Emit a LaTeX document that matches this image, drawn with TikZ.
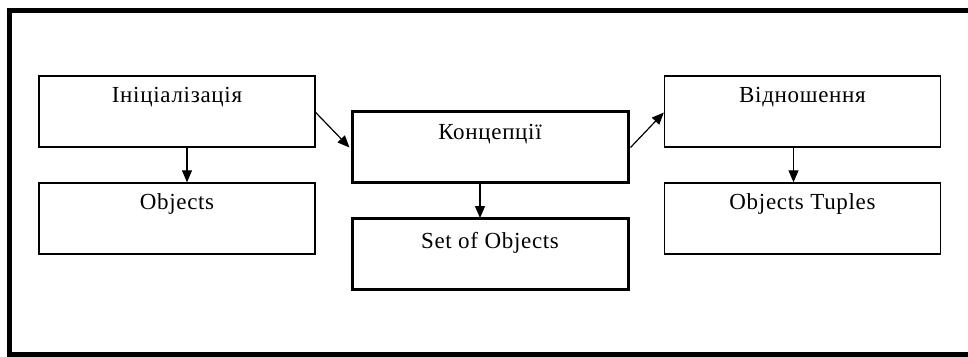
\documentclass[tikz,border=0pt]{standalone}
\usepackage{fontspec}
\setmainfont[LetterSpace=3]{Liberation Serif}
\usetikzlibrary{arrows.meta}

\tikzset{
  thinbox/.style={draw, line width=1.4pt, minimum width=276pt, minimum height=71pt, inner sep=0pt},
  thickbox/.style={draw, line width=3pt, minimum width=276pt, minimum height=71pt, inner sep=0pt},
  caption/.style={anchor=base, font=\fontsize{23}{27}\selectfont, inner sep=0pt},
  flow/.style={line width=1.2pt, -{Triangle[length=12pt,width=10pt]}},
}

\begin{document}
\begin{tikzpicture}[x=1pt, y=-1pt]
  \useasboundingbox (0,0) rectangle (968,356);
  \fill[white] (0,0) rectangle (968,356);
  % outer frame, its right side runs past the page edge
  \clip (0,0) rectangle (968,356);
  \draw[line width=5pt] (975,10) -- (9.5,10) -- (9.5,354) -- (975,354);

  % boxes
  \node[thinbox]  (init)   at (177,111.5) {};
  \node[thinbox]  (obj)    at (177,218.5) {};
  \node[thickbox] (conc)   at (490,146.5) {};
  \node[thickbox] (set)    at (490,254)   {};
  \node[thinbox]  (rel)    at (802.5,111.5) {};
  \node[thinbox]  (tuples) at (802.5,218.5) {};

  % captions near the top of each box
  \node[caption] (tinit)   at ([yshift=-27pt]init.north)   {Ініціалізація};
  \node[caption] (tobj)    at ([yshift=-27pt]obj.north)    {Objects};
  \node[caption] (tconc)   at ([yshift=-30pt]conc.north)   {Концепції};
  \node[caption] (tset)    at ([yshift=-31pt]set.north)    {Set of Objects};
  \node[caption] (trel)    at ([yshift=-27pt]rel.north)    {Відношення};
  \node[caption] (ttuples) at ([yshift=-27pt]tuples.north) {Objects Tuples};

  % connectors
  \draw[flow] ([xshift=10pt]init.south) -- ([xshift=10pt]obj.north);
  \draw[flow] ([xshift=-10pt]conc.south) -- ([xshift=-10pt,yshift=-1pt]set.north);
  \draw[flow] ([xshift=-9pt]rel.south) -- ([xshift=-9pt]tuples.north);
  \draw[flow] ([yshift=-1pt]init.east) -- ([xshift=-1pt,yshift=-1pt]conc.west);
  \draw[flow] ([xshift=1pt,yshift=-1pt]conc.east) -- ([yshift=-1pt]rel.west);
\end{tikzpicture}
\end{document}
